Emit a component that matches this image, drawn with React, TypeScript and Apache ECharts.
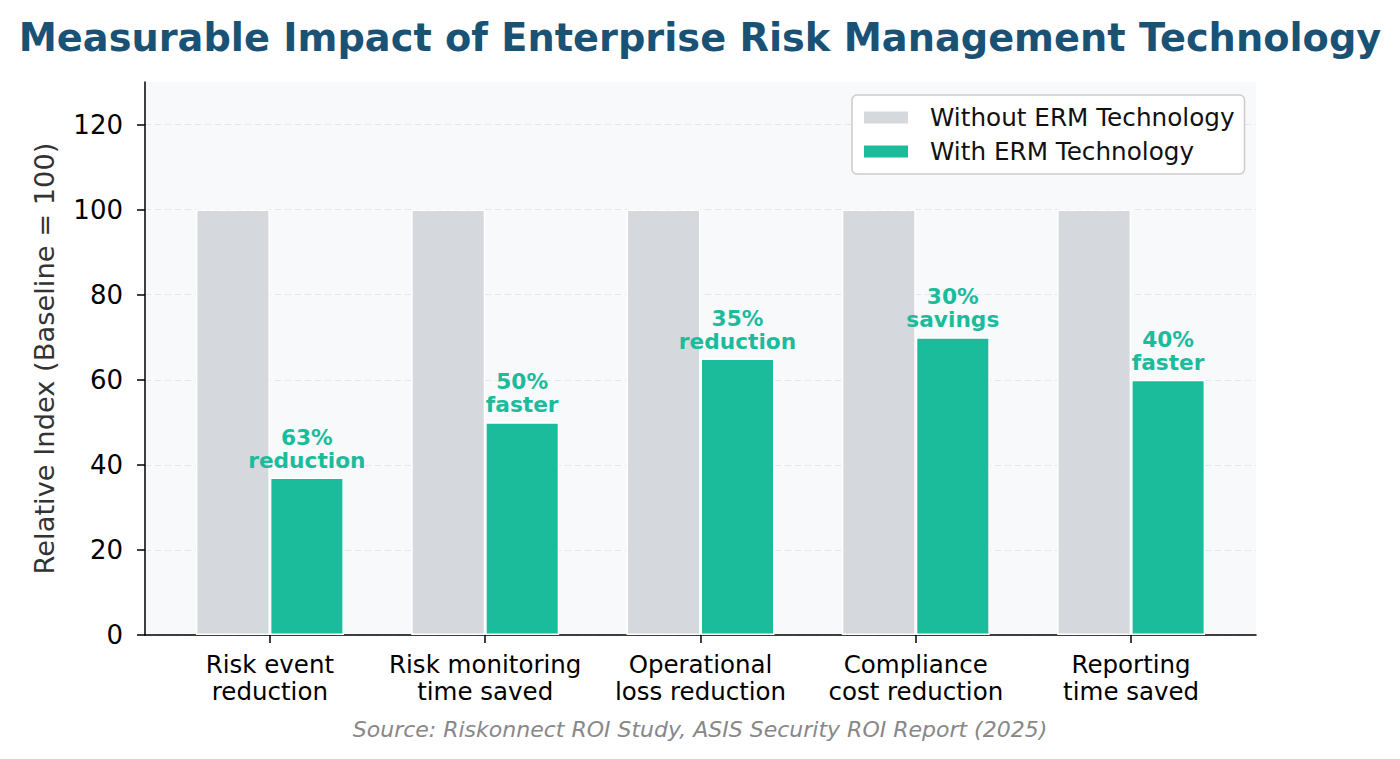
import React, { useEffect, useRef } from "react";
import * as echarts from "echarts";

const categories = [
  "Risk event\nreduction",
  "Risk monitoring\ntime saved",
  "Operational\nloss reduction",
  "Compliance\ncost reduction",
  "Reporting\ntime saved",
];
const withoutValues = [100, 100, 100, 100, 100];
const withValues = [37, 50, 65, 70, 60];
const improvementLabels = [
  "63%\nreduction",
  "50%\nfaster",
  "35%\nreduction",
  "30%\nsavings",
  "40%\nfaster",
];
const yTicks = [0, 20, 40, 60, 80, 100, 120];
const FONT = "DejaVu Sans";

export default function App() {
  const ref = useRef<HTMLDivElement>(null);
  useEffect(() => {
    if (!ref.current) return;
    const chart = echarts.init(ref.current, null, { renderer: "svg" });
    const idx = categories.map((_, i) => i);
    chart.setOption({
      animation: false,
      backgroundColor: "#ffffff",
      title: [
        {
          text: "Measurable Impact of Enterprise Risk Management Technology",
          left: "center",
          top: 13,
          textStyle: { fontFamily: FONT, fontWeight: "bold", fontSize: 38.3, color: "#1a5276" },
        },
        {
          text: "Source: Riskonnect ROI Study, ASIS Security ROI Report (2025)",
          left: "center",
          top: 713,
          textStyle: { fontFamily: FONT, fontStyle: "italic", fontWeight: "normal", fontSize: 22, color: "#888888" },
        },
      ],
      legend: {
        orient: "vertical",
        left: 852,
        top: 95,
        padding: [10, 10, 10, 10],
        itemGap: 9,
        itemWidth: 46,
        itemHeight: 14,
        backgroundColor: "#ffffff",
        borderColor: "#cccccc",
        borderWidth: 1.5,
        borderRadius: 5,
        textStyle: { fontFamily: FONT, fontSize: 24.7, color: "#111111", padding: [0, 0, 0, 16] },
        data: [
          { name: "Without ERM Technology", icon: "rect" },
          { name: "With ERM Technology", icon: "rect" },
        ],
      },
      grid: { left: 145, right: 144, top: 82, bottom: 124, show: true, backgroundColor: "#f8f9fb", borderWidth: 0 },
      xAxis: {
        type: "value",
        min: -0.58,
        max: 4.58,
        splitLine: { show: false },
        axisLine: { show: true, onZero: false, lineStyle: { color: "#000000", width: 1.5 } },
        axisTick: { show: true, length: 8, lineStyle: { color: "#000000", width: 1.5 }, customValues: idx },
        axisLabel: {
          customValues: idx,
          formatter: (v: number) => categories[Math.round(v)] ?? "",
          fontFamily: FONT,
          fontSize: 24.5,
          color: "#000000",
          lineHeight: 27,
          margin: 16,
        },
      },
      yAxis: {
        type: "value",
        min: 0,
        max: 130,
        interval: 20,
        name: "Relative Index (Baseline = 100)",
        nameLocation: "middle",
        nameGap: 87,
        nameRotate: 90,
        nameTextStyle: { fontFamily: FONT, fontSize: 27.3, color: "#333333" },
        axisLine: { show: true, onZero: false, lineStyle: { color: "#000000", width: 1.5 } },
        axisTick: { show: true, length: 8, lineStyle: { color: "#000000", width: 1.5 }, customValues: yTicks },
        axisLabel: { customValues: yTicks, fontFamily: FONT, fontSize: 26, color: "#000000", margin: 22 },
        splitLine: { show: true, lineStyle: { color: "#e2e7ee", type: [6, 4], width: 1.2 } },
      },
      series: [
        {
          name: "Without ERM Technology",
          type: "bar",
          barWidth: 74,
          barGap: "0%",
          data: withoutValues.map((v, i) => [i, v]),
          itemStyle: { color: "#d5d8dc", borderColor: "#ffffff", borderWidth: 1.5 },
        },
        {
          name: "With ERM Technology",
          type: "bar",
          barWidth: 74,
          barGap: "0%",
          data: withValues.map((v, i) => [i, v]),
          itemStyle: { color: "#1abc9c", borderColor: "#ffffff", borderWidth: 1.5 },
          label: {
            show: true,
            position: "top",
            distance: 6,
            formatter: (p: any) => improvementLabels[p.dataIndex],
            fontFamily: FONT,
            fontWeight: "bold",
            fontSize: 21.7,
            lineHeight: 23,
            color: "#1abc9c",
          },
        },
      ],
    });
    return () => chart.dispose();
  }, []);
  return (
    <div
      ref={ref}
      style={{ position: "fixed", left: 0, top: 0, width: 1400, height: 759 }}
    />
  );
}
